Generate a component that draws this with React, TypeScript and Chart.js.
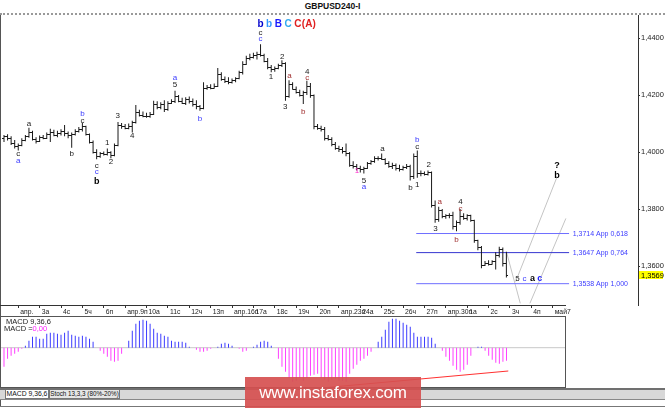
import { useEffect, useRef } from 'react';
import { Chart, registerables } from 'chart.js';

Chart.register(...registerables);

// GBPUSD H4 bars, index 0 = Mar 30 08:00 ... 141 = May 2 20:00
const opens = [
  1.4050, 1.4055, 1.4048, 1.4030, 1.4020, 1.4025, 1.4042, 1.4055, 1.4070, 1.4045,
  1.4040, 1.4052, 1.4050, 1.4062, 1.4070, 1.4060, 1.4068, 1.4075, 1.4065, 1.4060,
  1.4062, 1.4075, 1.4080, 1.4090, 1.4062, 1.4035, 1.4000, 1.3985, 1.3995, 1.3992,
  1.4000, 1.3990, 1.4025, 1.4095, 1.4090, 1.4085, 1.4092, 1.4105, 1.4140, 1.4130,
  1.4128, 1.4125, 1.4135, 1.4170, 1.4158, 1.4170, 1.4150, 1.4172, 1.4180, 1.4195,
  1.4180, 1.4172, 1.4185, 1.4178, 1.4168, 1.4160, 1.4155, 1.4225, 1.4228, 1.4225,
  1.4232, 1.4275, 1.4255, 1.4250, 1.4245, 1.4252, 1.4258, 1.4280, 1.4310, 1.4330,
  1.4335, 1.4340, 1.4345, 1.4340, 1.4320, 1.4298, 1.4290, 1.4295, 1.4305, 1.4312,
  1.4195, 1.4240, 1.4222, 1.4212, 1.4200, 1.4210, 1.4230, 1.4200, 1.4090, 1.4085,
  1.4080, 1.4050, 1.4045, 1.4028, 1.4015, 1.4010, 1.4005, 1.3995, 1.3955, 1.3950,
  1.3945, 1.3940, 1.3945, 1.3960, 1.3968, 1.3978, 1.3980, 1.3975, 1.3960, 1.3950,
  1.3955, 1.3945, 1.3940, 1.3948, 1.3950, 1.3915, 1.3985, 1.3925, 1.3925, 1.3922,
  1.3930, 1.3815, 1.3765, 1.3795, 1.3775, 1.3778, 1.3780, 1.3740, 1.3755, 1.3775,
  1.3770, 1.3778, 1.3760, 1.3690, 1.3668, 1.3605, 1.3612, 1.3608, 1.3616, 1.3640,
  1.3660, 1.3612,
];
const highs = [
  1.4060, 1.4062, 1.4055, 1.4042, 1.4030, 1.4048, 1.4060, 1.4085, 1.4075, 1.4052,
  1.4058, 1.4060, 1.4068, 1.4082, 1.4078, 1.4075, 1.4080, 1.4095, 1.4072, 1.4068,
  1.4080, 1.4088, 1.4102, 1.4092, 1.4065, 1.4040, 1.4010, 1.4000, 1.4002, 1.4012,
  1.4003, 1.4030, 1.4105, 1.4102, 1.4098, 1.4100, 1.4110, 1.4165, 1.4148, 1.4142,
  1.4138, 1.4140, 1.4180, 1.4178, 1.4175, 1.4182, 1.4178, 1.4185, 1.4215, 1.4200,
  1.4190, 1.4192, 1.4195, 1.4188, 1.4182, 1.4165, 1.4245, 1.4235, 1.4238, 1.4240,
  1.4295, 1.4280, 1.4265, 1.4262, 1.4258, 1.4262, 1.4285, 1.4318, 1.4338, 1.4345,
  1.4348, 1.4352, 1.4378, 1.4345, 1.4330, 1.4305, 1.4300, 1.4310, 1.4322, 1.4315,
  1.4252, 1.4245, 1.4230, 1.4218, 1.4215, 1.4250, 1.4242, 1.4202, 1.4098, 1.4092,
  1.4088, 1.4060, 1.4052, 1.4035, 1.4022, 1.4018, 1.4030, 1.4000, 1.3968, 1.3958,
  1.3952, 1.3948, 1.3965, 1.3972, 1.3985, 1.3985, 1.3995, 1.3978, 1.3968, 1.3962,
  1.3960, 1.3955, 1.3952, 1.3958, 1.3955, 1.3995, 1.4005, 1.3935, 1.3932, 1.3935,
  1.3932, 1.3830, 1.3808, 1.3800, 1.3782, 1.3785, 1.3790, 1.3760, 1.3800, 1.3785,
  1.3782, 1.3780, 1.3762, 1.3692, 1.3670, 1.3618, 1.3620, 1.3620, 1.3648, 1.3668,
  1.3665, 1.3650,
];
const lows = [
  1.4035, 1.4040, 1.4025, 1.4012, 1.4005, 1.4020, 1.4038, 1.4050, 1.4040, 1.4030,
  1.4035, 1.4045, 1.4046, 1.4035, 1.4055, 1.4052, 1.4058, 1.4055, 1.4048, 1.4015,
  1.4058, 1.4068, 1.4072, 1.4058, 1.4030, 1.3995, 1.3975, 1.3980, 1.3988, 1.3988,
  1.3978, 1.3985, 1.4020, 1.4082, 1.4080, 1.4080, 1.4068, 1.4100, 1.4125, 1.4122,
  1.4120, 1.4120, 1.4130, 1.4150, 1.4150, 1.4140, 1.4145, 1.4168, 1.4172, 1.4175,
  1.4168, 1.4165, 1.4170, 1.4160, 1.4150, 1.4145, 1.4150, 1.4218, 1.4220, 1.4222,
  1.4228, 1.4250, 1.4242, 1.4238, 1.4240, 1.4245, 1.4255, 1.4272, 1.4305, 1.4322,
  1.4328, 1.4325, 1.4335, 1.4315, 1.4290, 1.4280, 1.4282, 1.4290, 1.4298, 1.4180,
  1.4190, 1.4218, 1.4205, 1.4195, 1.4168, 1.4200, 1.4190, 1.4080, 1.4078, 1.4072,
  1.4040, 1.4040, 1.4020, 1.4008, 1.4000, 1.3995, 1.3985, 1.3948, 1.3942, 1.3935,
  1.3928, 1.3925, 1.3940, 1.3955, 1.3962, 1.3970, 1.3972, 1.3955, 1.3945, 1.3940,
  1.3935, 1.3932, 1.3935, 1.3940, 1.3900, 1.3905, 1.3910, 1.3915, 1.3918, 1.3918,
  1.3805, 1.3752, 1.3755, 1.3768, 1.3766, 1.3768, 1.3728, 1.3722, 1.3745, 1.3762,
  1.3760, 1.3755, 1.3682, 1.3655, 1.3592, 1.3600, 1.3602, 1.3604, 1.3588, 1.3630,
  1.3598, 1.3560,
];
const closes = [
  1.4055, 1.4048, 1.4030, 1.4020, 1.4025, 1.4042, 1.4055, 1.4070, 1.4045, 1.4040,
  1.4052, 1.4050, 1.4062, 1.4070, 1.4060, 1.4068, 1.4075, 1.4065, 1.4060, 1.4062,
  1.4075, 1.4080, 1.4090, 1.4062, 1.4035, 1.4000, 1.3985, 1.3995, 1.3992, 1.4000,
  1.3990, 1.4025, 1.4095, 1.4090, 1.4085, 1.4092, 1.4105, 1.4140, 1.4130, 1.4128,
  1.4125, 1.4135, 1.4170, 1.4158, 1.4170, 1.4150, 1.4172, 1.4180, 1.4195, 1.4180,
  1.4172, 1.4185, 1.4178, 1.4168, 1.4160, 1.4155, 1.4225, 1.4228, 1.4225, 1.4232,
  1.4275, 1.4255, 1.4250, 1.4245, 1.4252, 1.4258, 1.4280, 1.4310, 1.4330, 1.4335,
  1.4340, 1.4345, 1.4340, 1.4320, 1.4298, 1.4290, 1.4295, 1.4305, 1.4312, 1.4195,
  1.4240, 1.4222, 1.4212, 1.4200, 1.4210, 1.4230, 1.4200, 1.4090, 1.4085, 1.4080,
  1.4050, 1.4045, 1.4028, 1.4015, 1.4010, 1.4005, 1.3995, 1.3955, 1.3950, 1.3945,
  1.3940, 1.3945, 1.3960, 1.3968, 1.3978, 1.3980, 1.3975, 1.3960, 1.3950, 1.3955,
  1.3945, 1.3940, 1.3948, 1.3950, 1.3915, 1.3985, 1.3925, 1.3925, 1.3922, 1.3930,
  1.3815, 1.3765, 1.3795, 1.3775, 1.3778, 1.3780, 1.3740, 1.3755, 1.3775, 1.3770,
  1.3778, 1.3760, 1.3690, 1.3668, 1.3605, 1.3612, 1.3608, 1.3616, 1.3640, 1.3660,
  1.3612, 1.3569,
];

// MACD(9,36,6) histogram, in points (0.0001)
const macdHist = [
  -19, -11, -8, -6, -4, -1, 2, 7, 11, 11,
  9, 9, 14, 15, 15, 14, 13, 15, 17, 13,
  12, 11, 12, 11, 9, 6, 0, -3, -6, -9,
  -13, -14, -13, -6, 0, 7, 17, 24, 27, 28,
  27, 24, 19, 15, 14, 12, 11, 7, 6, 6,
  6, 5, 1, 0, -2, -4, -4, -3, -1, 0,
  1, 4, 5, 4, 2, 0, -1, -4, -3, 0,
  1, 3, 6, 7, 6, 2, 0, -11, -19, -24,
  -30, -34, -33, -30, -33, -30, -28, -27, -26, -30,
  -32, -34, -32, -31, -33, -33, -34, -26, -21, -17,
  -13, -11, -8, -4, 0, 6, 11, 18, 26, 29,
  29, 27, 25, 23, 21, 15, 11, 11, 11, 11,
  10, 4, 0, -3, -9, -13, -18, -22, -24, -22,
  -17, -8, 0, 1, 1, -3, -8, -12, -15, -16,
  -14, -13,
];

const dayLabels = [
  'апр.', '3а', '4с', '5ч', '6п', 'апр.9п', '10а', '11с', '12ч', '13п',
  'апр.16п', '17а', '18с', '19ч', '20п', 'апр.23п', '24а', '25с', '26ч', '27п',
  'апр.30п', '1а', '2с', '3ч', '4п', 'май7',
];
const priceTicks = [1.36, 1.38, 1.40, 1.42, 1.44];

const fibLevels = [1.3714, 1.3647, 1.3538];
const fibTexts = ['1,3714 App 0,618', '1,3647 App 0,764', '1,3538 App 1,000'];

// [bar, price] pairs of the grey forecast lines
const forecastLines = [
  [[141.1, 1.3646], [144.9, 1.3469]],
  [[143.6, 1.3545], [155.2, 1.3912]],
  [[147.6, 1.3469], [157.7, 1.3767]],
];
// [bar, histogram] ends of the red divergence line
const divergenceLine = [[90, -40], [141.5, -23.3]];

// wave marks: bar, price, text, tone
const waveLabels = [
  [4.0, 1.3993, 'c', 'k'], [4.0, 1.3969, 'a', 'b'],
  [7.0, 1.4098, 'a', 'k'],
  [19.0, 1.3995, 'b', 'k'],
  [22.0, 1.4133, 'b', 'b'], [22.0, 1.4110, 'c', 'k'],
  [26.0, 1.3952, 'c', 'k'], [26.0, 1.3931, 'c', 'b'], [26.0, 1.3896, 'b', 'K'],
  [29.0, 1.4033, '1', 'k'], [30.0, 1.3967, '2', 'k'],
  [31.9, 1.4127, '3', 'k'], [36.0, 1.4057, '4', 'k'],
  [48.0, 1.4262, 'a', 'b'], [48.0, 1.4235, '5', 'k'],
  [55.0, 1.4118, 'b', 'b'],
  [72.0, 1.4420, 'c', 'k'], [72.0, 1.4396, 'c', 'b'],
  [74.9, 1.4264, '1', 'k'], [78.1, 1.4334, '2', 'k'], [78.9, 1.4157, '3', 'k'],
  [80.1, 1.4268, 'a', 'r'], [84.0, 1.4141, 'b', 'r'],
  [85.1, 1.4282, '4', 'k'], [85.1, 1.4260, 'c', 'r'],
  [99.1, 1.3934, '1', 'm'],
  [101.0, 1.3899, '5', 'k'], [101.0, 1.3878, 'a', 'b'],
  [106.2, 1.4010, 'a', 'k'],
  [114.1, 1.3875, 'b', 'k'], [116.0, 1.3884, '1', 'k'],
  [116.0, 1.4042, 'b', 'b'], [116.0, 1.4019, 'c', 'k'],
  [119.2, 1.3954, '2', 'k'], [121.1, 1.3730, '3', 'k'],
  [122.3, 1.3824, 'a', 'r'],
  [128.1, 1.3824, '4', 'k'], [128.1, 1.3799, 'c', 'r'],
  [127.0, 1.3691, 'b', 'r'],
  [144.1, 1.3555, '5', 'k'], [146.1, 1.3555, 'c', 'b'],
  [148.3, 1.3555, 'a', 'K'], [150.4, 1.3555, 'c', 'B'],
  [155.2, 1.3952, '?', 'K'], [155.2, 1.3916, 'b', 'K'],
];
const headerMark = [72.0, 1.4449];
const headerParts = [
  ['b', '#0000cc'], ['b', '#3399ff'], ['B', '#1a1aff'], ['C', '#33aaee'], ['C', '#e02020'], ['(A)', '#e02020'],
];

const FONT = "'Liberation Sans', Arial, sans-serif";
const BAR_COLOR = '#1a1a1a';
const FIRST_DAY_BAR = 4;
const BARS_PER_DAY = 6;
const TIME_END = 157.7;
const FIB_START = 115.7;
const FIB_END = 158.6;
const FIB_TEXT_AT = 159.6;

const toneStyle: Record<string, { color: string; font: string }> = {
  k: { color: '#1a1a1a', font: `8px ${FONT}` },
  b: { color: '#3a3aff', font: `8px ${FONT}` },
  r: { color: '#a03030', font: `8px ${FONT}` },
  m: { color: '#ff22cc', font: `8px ${FONT}` },
  K: { color: '#000000', font: `bold 9px ${FONT}` },
  B: { color: '#2020ff', font: `bold 9px ${FONT}` },
};

const comma = (v: number, d: number) => v.toFixed(d).replace('.', ',');

const mainOverlay = {
  id: 'mainOverlay',
  afterDatasetsDraw(chart: any) {
    const { ctx, chartArea, scales } = chart;
    const x = scales.x;
    const y = scales.y;
    ctx.save();

    // open / close ticks of the bars
    ctx.fillStyle = BAR_COLOR;
    opens.forEach((o, i) => {
      const px = Math.round(x.getPixelForValue(i));
      ctx.fillRect(px - 2, Math.round(y.getPixelForValue(o)), 2, 1);
      ctx.fillRect(px, Math.round(y.getPixelForValue(closes[i])), 2, 1);
    });

    // time axis line (ends where the time scale ends)
    ctx.fillStyle = '#333';
    ctx.fillRect(0, Math.round(chartArea.bottom), Math.round(x.getPixelForValue(TIME_END)), 1);

    // fibo texts
    ctx.font = `7px ${FONT}`;
    ctx.fillStyle = '#3c3cff';
    ctx.textAlign = 'left';
    ctx.textBaseline = 'middle';
    fibLevels.forEach((p, k) => {
      ctx.fillText(fibTexts[k], x.getPixelForValue(FIB_TEXT_AT), y.getPixelForValue(p) + 0.5);
    });

    // wave marks
    ctx.textAlign = 'center';
    waveLabels.forEach(([i, p, t, tone]: any) => {
      const s = toneStyle[tone];
      ctx.font = s.font;
      ctx.fillStyle = s.color;
      ctx.fillText(t, x.getPixelForValue(i), y.getPixelForValue(p));
    });

    // header "b b B C C(A)"
    ctx.font = `bold 10px ${FONT}`;
    ctx.textAlign = 'left';
    let hx = x.getPixelForValue(headerMark[0]) - ctx.measureText('b').width / 2;
    const hy = y.getPixelForValue(headerMark[1]);
    headerParts.forEach(([t, c], k) => {
      ctx.fillStyle = c;
      ctx.fillText(t, hx, hy);
      hx += ctx.measureText(t).width + (k === 4 ? 0.5 : 2.5);
    });

    // current price box
    const last = closes[closes.length - 1];
    const py = Math.round(y.getPixelForValue(last));
    ctx.fillStyle = '#ffff00';
    ctx.fillRect(chartArea.right + 1, py - 4, 24, 8);
    ctx.fillStyle = '#000';
    ctx.font = `7.5px ${FONT}`;
    ctx.fillText(comma(last, 4), chartArea.right + 3, py + 0.5);
    ctx.restore();
  },
};

const macdOverlay = {
  id: 'macdOverlay',
  afterDatasetsDraw(chart: any) {
    const { ctx, width, height } = chart;
    ctx.save();
    ctx.strokeStyle = '#555';
    ctx.lineWidth = 1;
    ctx.strokeRect(0.5, 0.5, width - 1, height - 1);
    ctx.font = `7.5px ${FONT}`;
    ctx.textAlign = 'left';
    ctx.textBaseline = 'middle';
    ctx.fillStyle = '#222';
    ctx.fillText('MACD 9,36,6', 6, 5.5);
    ctx.fillText('MACD =', 4, 12.5);
    ctx.fillStyle = '#ff22ff';
    ctx.fillText('0,00', 4 + ctx.measureText('MACD =').width, 12.5);
    ctx.restore();
  },
};

function PriceChart() {
  const chartRef = useRef<HTMLCanvasElement>(null);
  const chartInstance = useRef<Chart | null>(null);

  useEffect(() => {
    if (!chartRef.current) return;
    if (chartInstance.current) chartInstance.current.destroy();
    const ctx = chartRef.current.getContext('2d');
    if (!ctx) return;

    const lineSet = (pts: number[][], color: string) => ({
      type: 'line' as const,
      data: pts.map(([px, py]) => ({ x: px, y: py })),
      borderColor: color,
      borderWidth: 1,
      pointRadius: 0,
      fill: false,
      order: 2,
    });

    chartInstance.current = new Chart(ctx, {
      type: 'bar',
      data: {
        datasets: [
          ...fibLevels.map((p, k) =>
            lineSet([[FIB_START, p], [FIB_END, p]], k === 1 ? '#3535d0' : '#6e6eff')),
          ...forecastLines.map((l) => lineSet(l, '#c4c4c4')),
          {
            type: 'bar',
            data: lows.map((l, i) => ({ x: i, y: [l, highs[i]] })),
            backgroundColor: BAR_COLOR,
            barThickness: 1,
            inflateAmount: 0,
            order: 1,
          } as any,
        ],
      },
      options: {
        animation: false,
        responsive: false,
        events: [],
        layout: { padding: { left: 2, top: 0, right: 0, bottom: 0 } },
        plugins: { legend: { display: false }, tooltip: { enabled: false } },
        scales: {
          x: {
            type: 'linear',
            min: -0.56,
            max: 177.94,
            offset: false,
            border: { display: false },
            grid: { display: true, offset: false, drawOnChartArea: false, drawTicks: true, tickLength: 3, color: '#333' },
            ticks: {
              autoSkip: false,
              maxRotation: 0,
              align: 'start',
              labelOffset: 2,
              padding: 0,
              color: '#222',
              font: { family: FONT, size: 6.8 },
              callback: (_v: any, idx: number) => dayLabels[idx],
            },
            afterBuildTicks: (s: any) => {
              s.ticks = dayLabels.map((_, k) => ({ value: FIRST_DAY_BAR + k * BARS_PER_DAY }));
            },
            afterFit: (s: any) => {
              s.height = 12;
              s.paddingLeft = 0;
              s.paddingRight = 0;
            },
          },
          y: {
            type: 'linear',
            position: 'right',
            min: 1.34632,
            max: 1.44807,
            border: { display: true, color: '#333' },
            grid: { drawOnChartArea: false, tickLength: 2, color: '#333' },
            ticks: {
              padding: 1,
              color: '#222',
              font: { family: FONT, size: 7.5 },
              callback: (v: any) => comma(Number(v), 4),
            },
            afterBuildTicks: (s: any) => {
              s.ticks = priceTicks.map((v) => ({ value: v }));
            },
            afterFit: (s: any) => {
              s.width = 27;
              s.paddingTop = 0;
              s.paddingBottom = 0;
            },
          },
        },
      } as any,
      plugins: [mainOverlay],
    });

    return () => {
      if (chartInstance.current) chartInstance.current.destroy();
      chartInstance.current = null;
    };
  }, []);

  return (
    <canvas
      ref={chartRef}
      width={665}
      height={302}
      style={{ position: 'absolute', left: 0, top: 15, width: 665, height: 302 }}
    />
  );
}

function MacdChart() {
  const chartRef = useRef<HTMLCanvasElement>(null);
  const chartInstance = useRef<Chart | null>(null);

  useEffect(() => {
    if (!chartRef.current) return;
    if (chartInstance.current) chartInstance.current.destroy();
    const ctx = chartRef.current.getContext('2d');
    if (!ctx) return;

    chartInstance.current = new Chart(ctx, {
      type: 'bar',
      data: {
        datasets: [
          {
            type: 'line',
            data: [{ x: -1.12, y: 0 }, { x: TIME_END, y: 0 }],
            borderColor: '#c8c8c8',
            borderWidth: 1,
            pointRadius: 0,
            order: 3,
          },
          {
            type: 'bar',
            data: macdHist.map((v, i) => ({ x: i, y: v })),
            backgroundColor: macdHist.map((v) => (v >= 0 ? '#3c3cff' : '#ff40ff')),
            barThickness: 1,
            inflateAmount: 0,
            order: 2,
          },
          {
            type: 'line',
            data: divergenceLine.map(([px, py]) => ({ x: px, y: py })),
            borderColor: '#ff3030',
            borderWidth: 1,
            pointRadius: 0,
            order: 1,
          },
        ] as any,
      },
      options: {
        animation: false,
        responsive: false,
        events: [],
        layout: { padding: 0 },
        plugins: { legend: { display: false }, tooltip: { enabled: false } },
        scales: {
          x: { type: 'linear', display: false, min: -1.12, max: TIME_END, offset: false, grid: { offset: false } },
          y: { type: 'linear', display: false, min: -40.3, max: 31.7 },
        },
      } as any,
      plugins: [macdOverlay],
    });

    return () => {
      if (chartInstance.current) chartInstance.current.destroy();
      chartInstance.current = null;
    };
  }, []);

  return (
    <canvas
      ref={chartRef}
      width={566}
      height={72}
      style={{ position: 'absolute', left: 0, top: 316, width: 566, height: 72 }}
    />
  );
}

export default function App() {
  return (
    <div
      style={{
        position: 'fixed',
        left: 0,
        top: 0,
        width: 665,
        height: 408,
        background: '#fff',
        overflow: 'hidden',
        fontFamily: FONT,
      }}
    >
      <div
        style={{
          position: 'absolute', left: 0, top: 0, width: 665, textAlign: 'center',
          font: `bold 8.5px ${FONT}`, lineHeight: '12px', color: '#111',
        }}
      >
        GBPUSD240-I
      </div>
      <div style={{ position: 'absolute', left: 0, top: 13, width: 665, borderTop: '2px dotted #999' }} />
      <div style={{ position: 'absolute', left: 0, top: 15, width: 1, height: 391, background: '#555' }} />
      <PriceChart />
      <MacdChart />
      <div
        style={{
          position: 'absolute', left: 0, top: 388, width: 665, height: 9,
          background: '#d8d8d8', borderTop: '2px solid #707070',
        }}
      />
      <div
        style={{
          position: 'absolute', left: 5, top: 390, width: 42, height: 8, background: '#fff',
          border: '1px solid #777', borderTop: 'none', font: `6.8px ${FONT}`, lineHeight: '8px',
          textAlign: 'center', color: '#111',
        }}
      >
        MACD 9,36,6
      </div>
      <div
        style={{
          position: 'absolute', left: 49, top: 390, width: 69, height: 8, background: '#e6e6e6',
          border: '1px solid #777', borderTop: 'none', font: `6.3px ${FONT}`, lineHeight: '8px',
          textAlign: 'center', color: '#111', whiteSpace: 'nowrap', overflow: 'hidden',
        }}
      >
        Stoch 13,3,3 (80%-20%)
      </div>
      <div style={{ position: 'absolute', left: 0, top: 399, width: 665, height: 1, background: '#888' }} />
      <div style={{ position: 'absolute', left: 0, top: 406, width: 665, height: 1, background: '#777' }} />
      <div
        style={{
          position: 'absolute', left: 245, top: 377, width: 176, height: 31,
          background: 'rgba(214, 80, 80, 0.92)', color: '#fff', font: `17px ${FONT}`,
          lineHeight: '31px', textAlign: 'center', letterSpacing: '-0.2px',
        }}
      >
        www.instaforex.com
      </div>
    </div>
  );
}
